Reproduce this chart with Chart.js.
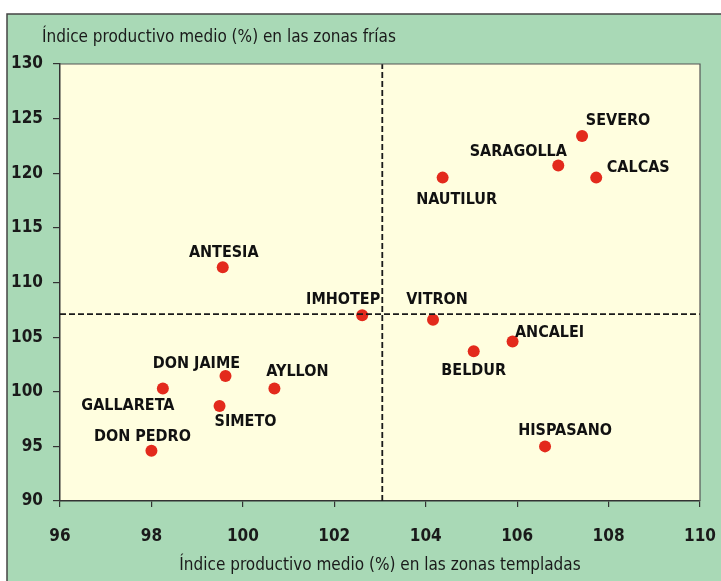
<!DOCTYPE html>
<html>
<head>
<meta charset="utf-8">
<script src="https://cdn.jsdelivr.net/npm/chart.js@4"></script>
<style>
  html, body { margin: 0; padding: 0; background: #fff; }
  #wrap { width: 721px; height: 581px; position: relative; }
</style>
</head>
<body>
<div id="wrap"><canvas id="chart" width="721" height="581"></canvas></div>
<script>
const names = ["ANTESIA", "IMHOTEP", "VITRON", "NAUTILUR", "SARAGOLLA", "SEVERO", "CALCAS",
  "ANCALEI", "BELDUR", "HISPASANO", "GALLARETA", "DON JAIME", "SIMETO", "AYLLON", "DON PEDRO"];
const templadas = [99.56, 102.61, 104.16, 104.37, 106.9, 107.42, 107.73,
  105.9, 105.05, 106.61, 98.25, 99.62, 99.49, 100.69, 98.0];
const frias = [111.4, 107.0, 106.6, 119.6, 120.7, 123.4, 119.6,
  104.6, 103.7, 95.0, 100.3, 101.45, 98.7, 100.3, 94.6];
const meanX = 103.05;
const meanY = 107.1;
const xTicks = [96, 98, 100, 102, 104, 106, 108, 110];
const yTicks = [90, 95, 100, 105, 110, 115, 120, 125, 130];

// label placement relative to each point (px)
const labelOffsets = {
  "ANTESIA": [1, -14], "IMHOTEP": [-19, -15], "VITRON": [4, -20], "NAUTILUR": [14, 22],
  "SARAGOLLA": [-40, -14], "SEVERO": [36, -15], "CALCAS": [42, -10], "ANCALEI": [37, -9],
  "BELDUR": [0, 20], "HISPASANO": [20, -16], "GALLARETA": [-35, 17], "DON JAIME": [-29, -12],
  "SIMETO": [26, 16], "AYLLON": [23, -17], "DON PEDRO": [-9, -14]
};

const FONT = "'Liberation Sans Narrow', 'DejaVu Sans Condensed', 'Roboto Condensed', sans-serif";
const GREEN = "#a9d9b6";
const YELLOW = "#fffedf";

const frame = {
  id: "frame",
  beforeDraw(chart) {
    const ctx = chart.ctx, a = chart.chartArea;
    ctx.save();
    ctx.fillStyle = "#fff";
    ctx.fillRect(0, 0, chart.width, chart.height);
    ctx.fillStyle = GREEN;
    ctx.fillRect(7, 14, chart.width, chart.height);
    ctx.strokeStyle = "#444";
    ctx.lineWidth = 1.5;
    ctx.beginPath();
    ctx.moveTo(7, chart.height + 2);
    ctx.lineTo(7, 14);
    ctx.lineTo(chart.width + 2, 14);
    ctx.stroke();
    ctx.fillStyle = YELLOW;
    ctx.fillRect(a.left, a.top, a.right - a.left, a.bottom - a.top);
    ctx.restore();
  },
  afterDraw(chart) {
    const ctx = chart.ctx, a = chart.chartArea;
    ctx.save();
    ctx.strokeStyle = "#555";
    ctx.lineWidth = 1.2;
    ctx.beginPath();
    ctx.moveTo(a.left, a.top);
    ctx.lineTo(a.right, a.top);
    ctx.lineTo(a.right, a.bottom);
    ctx.stroke();
    ctx.fillStyle = "#1a1a1a";
    ctx.font = "17px " + FONT;
    ctx.textAlign = "left";
    ctx.textBaseline = "alphabetic";
    ctx.fillText("Índice productivo medio (%) en las zonas frías", 42, 42);
    ctx.restore();
  }
};

const pointLabels = {
  id: "pointLabels",
  afterDatasetsDraw(chart) {
    const ctx = chart.ctx;
    const meta = chart.getDatasetMeta(2);
    ctx.save();
    ctx.fillStyle = "#111";
    ctx.font = "bold 16px " + FONT;
    ctx.textAlign = "center";
    ctx.textBaseline = "middle";
    meta.data.forEach((pt, i) => {
      const off = labelOffsets[names[i]] || [0, -14];
      ctx.fillText(names[i], pt.x + off[0], pt.y + off[1]);
    });
    ctx.restore();
  }
};

new Chart(document.getElementById("chart").getContext("2d"), {
  type: "scatter",
  data: {
    datasets: [
      {
        type: "line",
        data: [{ x: xTicks[0], y: meanY }, { x: xTicks[xTicks.length - 1], y: meanY }],
        borderColor: "#1a1a1a", borderWidth: 1.8, borderDash: [6, 3],
        pointRadius: 0, fill: false,
      },
      {
        type: "line",
        data: [{ x: meanX, y: yTicks[0] }, { x: meanX, y: yTicks[yTicks.length - 1] }],
        borderColor: "#1a1a1a", borderWidth: 1.8, borderDash: [6, 3],
        pointRadius: 0, fill: false,
      },
      {
        data: names.map((n, i) => ({ x: templadas[i], y: frias[i] })),
        backgroundColor: "#e32a1c",
        borderColor: "#d42416",
        borderWidth: 0,
        pointRadius: 6,
      },
    ],
  },
  options: {
    responsive: false,
    animation: false,
    layout: { padding: { left: 0, right: 21, top: 64, bottom: 0 } },
    plugins: { legend: { display: false }, tooltip: { enabled: false } },
    scales: {
      x: {
        type: "linear",
        min: 96, max: 110,
        afterBuildTicks: (s) => { s.ticks = xTicks.map((v) => ({ value: v })); },
        afterFit: (s) => { s.height = 80; s.paddingLeft = 0; s.paddingRight = 0; },
        grid: { drawOnChartArea: false, drawTicks: true, tickLength: 6, color: "#333", lineWidth: 1.2 },
        border: { display: true, color: "#333", width: 1.5 },
        ticks: { color: "#1a1a1a", font: { family: FONT, size: 17, weight: "bold" }, padding: 19, maxRotation: 0 },
        title: {
          display: true,
          text: "Índice productivo medio (%) en las zonas templadas",
          color: "#1a1a1a",
          font: { family: FONT, size: 17 },
          padding: { top: 0, bottom: 5 },
        },
      },
      y: {
        type: "linear",
        min: 90, max: 130,
        afterBuildTicks: (s) => { s.ticks = yTicks.map((v) => ({ value: v })); },
        afterFit: (s) => { s.width = 60; s.paddingTop = 0; s.paddingBottom = 0; },
        grid: { drawOnChartArea: false, drawTicks: true, tickLength: 7, color: "#333", lineWidth: 1.2 },
        border: { display: true, color: "#333", width: 1.5 },
        ticks: { color: "#1a1a1a", font: { family: FONT, size: 17, weight: "bold" }, padding: 10 },
      },
    },
  },
  plugins: [frame, pointLabels],
});
</script>
</body>
</html>
